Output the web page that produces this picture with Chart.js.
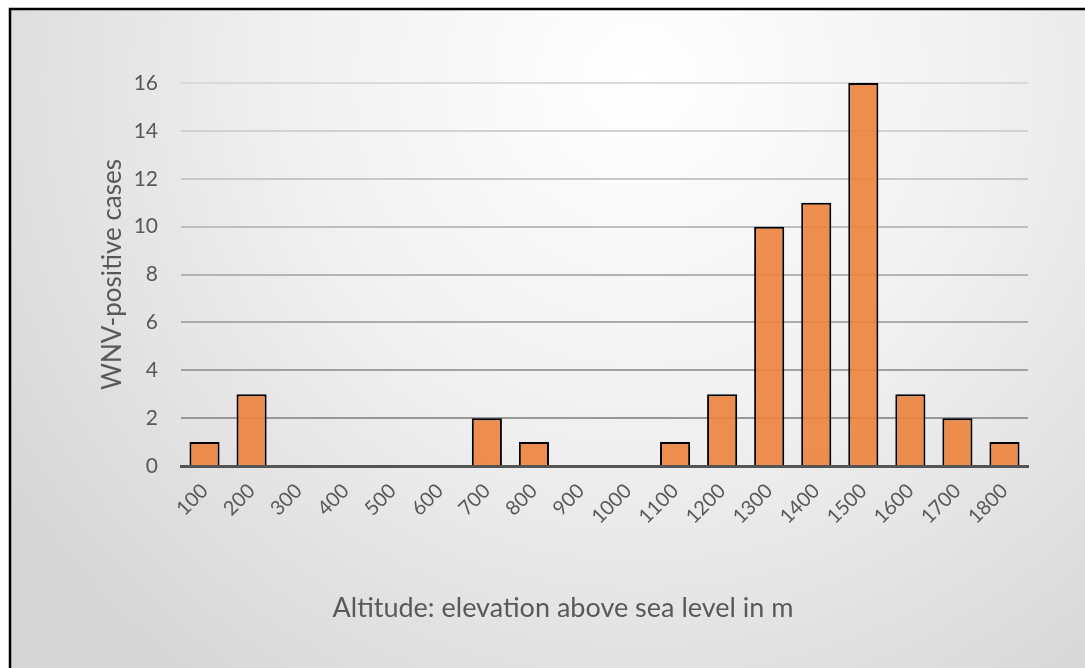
<!DOCTYPE html>
<html>
<head>
<meta charset="utf-8">
<script src="https://cdn.jsdelivr.net/npm/chart.js@4/dist/chart.umd.min.js"></script>
<style>
  html, body { margin: 0; padding: 0; background: #fff; }
  #wrap { width: 1085px; height: 668px; position: relative; }
</style>
</head>
<body>
<div id="wrap"><canvas id="c" width="1085" height="668"></canvas></div>
<script>
// Altitude bins (m) and WNV-positive case counts
const altitudes = ['100','200','300','400','500','600','700','800','900','1000','1100','1200','1300','1400','1500','1600','1700','1800'];
const cases = [1, 3, 0, 0, 0, 0, 2, 1, 0, 0, 1, 3, 10, 11, 16, 3, 2, 1];
const yTicks = [0, 2, 4, 6, 8, 10, 12, 14, 16];
const xTitle = 'Altitude: elevation above sea level in m';
const yTitle = 'WNV-positive cases';

const FONT = 'Lato, "Open Sans", sans-serif';
const TEXT = '#595959';

// Soft radial background with a dark frame
const frame = {
  id: 'frame',
  beforeDraw(chart) {
    const ctx = chart.ctx;
    const w = chart.width, h = chart.height;
    ctx.save();
    ctx.fillStyle = '#ffffff';
    ctx.fillRect(0, 0, w, h);
    const g = ctx.createRadialGradient(640, 80, 0, 640, 80, 760);
    g.addColorStop(0, '#ffffff');
    g.addColorStop(0.45, '#f1f1f1');
    g.addColorStop(1, '#d6d6d6');
    ctx.fillStyle = g;
    ctx.fillRect(10, 9, w - 10, h - 9);
    ctx.strokeStyle = '#000';
    ctx.lineWidth = 2.5;
    ctx.strokeRect(10, 9, w - 8, h + 4);
    ctx.restore();
  }
};

// Category axis title, centred on the whole frame rather than the plot
const bottomTitle = {
  id: 'bottomTitle',
  afterDraw(chart) {
    const ctx = chart.ctx;
    ctx.save();
    ctx.font = '27px ' + FONT;
    ctx.fillStyle = TEXT;
    ctx.textAlign = 'center';
    ctx.textBaseline = 'middle';
    ctx.fillText(xTitle, 563, 608);
    ctx.restore();
  }
};

function gridShade(v) {
  // lighter near the top, darker toward the baseline
  const t = Math.min(1, Math.max(0, (16 - v) / 14));
  const c = Math.round(218 - t * 66);
  return `rgb(${c},${c},${c})`;
}

new Chart(document.getElementById('c'), {
  type: 'bar',
  data: {
    labels: altitudes,
    datasets: [{
      data: cases,
      backgroundColor: 'rgba(236,130,60,0.9)',
      borderColor: '#000',
      borderWidth: 2,
      borderSkipped: 'bottom',
      categoryPercentage: 1,
      barPercentage: 0.64
    }]
  },
  options: {
    responsive: false,
    animation: false,
    layout: { padding: { left: 0, right: 57, top: 83, bottom: 0 } },
    plugins: { legend: { display: false }, tooltip: { enabled: false } },
    scales: {
      x: {
        afterFit(scale) { scale.height = 202; },
        grid: { display: false },
        border: { color: '#555', width: 3 },
        ticks: {
          color: TEXT, font: { family: FONT, size: 20 },
          maxRotation: 45, minRotation: 45, padding: 5, autoSkip: false
        },
        title: { display: false }
      },
      y: {
        min: 0, max: 16,
        afterFit(scale) { scale.width = 181; },
        afterBuildTicks(scale) { scale.ticks = yTicks.map(v => ({ value: v })); },
        grid: {
          color: c => c.tick && c.tick.value === 0 ? 'rgba(0,0,0,0)' : gridShade(c.tick ? c.tick.value : 16),
          lineWidth: 2, drawTicks: false
        },
        border: { display: false },
        ticks: { color: TEXT, font: { family: FONT, size: 21 }, padding: 23 },
        title: {
          display: true, text: yTitle,
          color: TEXT, font: { family: FONT, size: 26 },
          padding: { top: 97, bottom: 0 }
        }
      }
    }
  },
  plugins: [frame, bottomTitle]
});
</script>
</body>
</html>
